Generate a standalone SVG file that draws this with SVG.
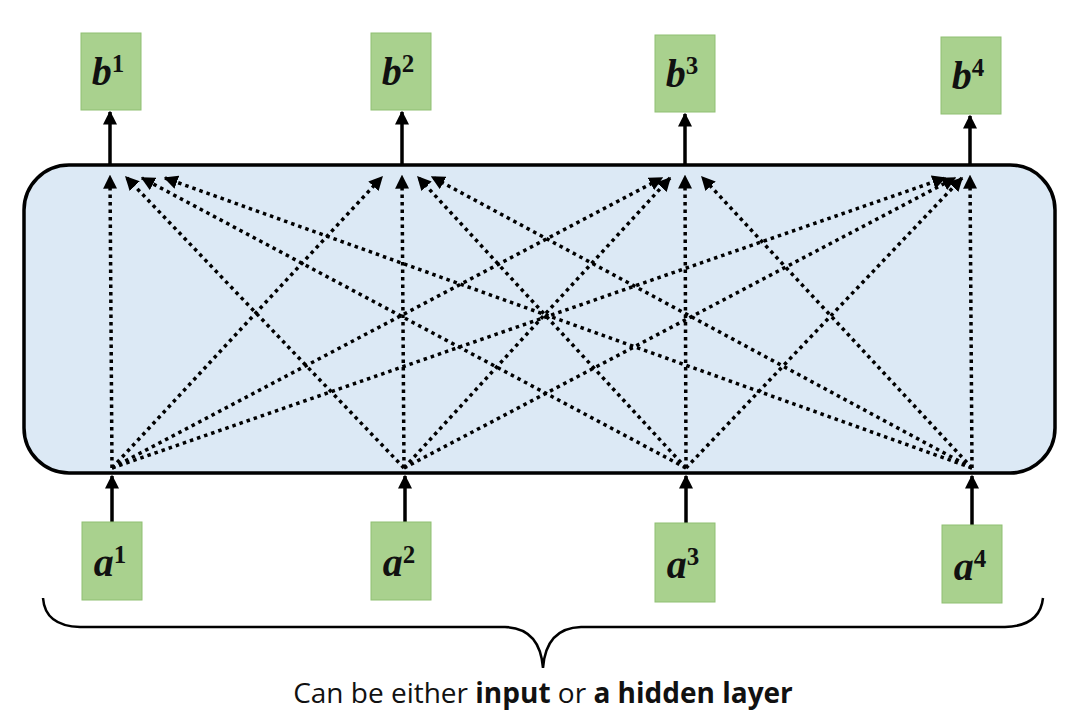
<svg xmlns="http://www.w3.org/2000/svg" width="1071" height="726" viewBox="0 0 1071 726">
<defs>
<style>
.box{fill:#a9d18e;stroke:#8fbf72;stroke-width:1}
.lab{font-family:"Liberation Serif",serif;font-weight:bold;font-style:italic;font-size:40px;fill:#111;text-anchor:middle}
.sup{font-style:normal;font-size:25px}
.solid{stroke:#000;stroke-width:3.5;fill:none}
.dot{stroke:#000;stroke-width:3.5;stroke-dasharray:3.5 4;fill:none}
</style>
<marker id="ah" viewBox="0 0 10 10" refX="9" refY="5" markerWidth="4" markerHeight="4" orient="auto"><path d="M0,0L10,5L0,10z" fill="#000"/></marker>
<marker id="ad" viewBox="0 0 10 10" refX="9" refY="5" markerWidth="4" markerHeight="4" orient="auto"><path d="M0,0L10,5L0,10z" fill="#000"/></marker>
</defs>
<rect x="24" y="165" width="1031" height="308" rx="45" fill="#dce9f5" stroke="#000" stroke-width="3.5"/>
<g id="connectors">
<g class="solid" marker-end="url(#ah)">
<path d="M110,165V112"/><path d="M402,165V112"/><path d="M685,165V114"/><path d="M970,165V116"/>
<path d="M112,522V476"/><path d="M405,522V476"/><path d="M686,524V476"/><path d="M972,527V476"/>
</g>
<g class="dot" marker-end="url(#ad)">
<path d="M112,468L110,176"/><path d="M112,468L382,177"/><path d="M112,468L662,178"/><path d="M112,468L945,178"/>
<path d="M404,468L126,177"/><path d="M404,468L402,176"/><path d="M404,468L670,178"/><path d="M404,468L955,178"/>
<path d="M686,468L142,178"/><path d="M686,468L418,177"/><path d="M686,468L685,176"/><path d="M686,468L962,178"/>
<path d="M972,468L165,178"/><path d="M972,468L432,177"/><path d="M972,468L702,177"/><path d="M972,468L970,176"/>
</g>
</g>
<g id="b1"><rect class="box" x="81" y="33" width="60" height="77"/><text class="lab" x="108" y="85">b<tspan class="sup" dy="-13">1</tspan></text></g>
<g id="b2"><rect class="box" x="371" y="33" width="60" height="77"/><text class="lab" x="398" y="85">b<tspan class="sup" dy="-13">2</tspan></text></g>
<g id="b3"><rect class="box" x="655" y="35" width="60" height="77"/><text class="lab" x="682" y="87">b<tspan class="sup" dy="-13">3</tspan></text></g>
<g id="b4"><rect class="box" x="941" y="37" width="60" height="77"/><text class="lab" x="968" y="89">b<tspan class="sup" dy="-13">4</tspan></text></g>
<g id="a1"><rect class="box" x="82" y="522" width="60" height="78"/><text class="lab" x="110" y="576">a<tspan class="sup" dy="-13">1</tspan></text></g>
<g id="a2"><rect class="box" x="371" y="522" width="60" height="78"/><text class="lab" x="399" y="576">a<tspan class="sup" dy="-13">2</tspan></text></g>
<g id="a3"><rect class="box" x="655" y="523" width="60" height="79"/><text class="lab" x="683" y="578">a<tspan class="sup" dy="-13">3</tspan></text></g>
<g id="a4"><rect class="box" x="942" y="525" width="60" height="78"/><text class="lab" x="970" y="580">a<tspan class="sup" dy="-13">4</tspan></text></g>
<path d="M43,598Q45,626 80,627L505,627Q540,628 543,668Q546,628 581,627L1005,627Q1040,626 1043,598" fill="none" stroke="#000" stroke-width="2.5"/>
<text x="543" y="703" font-family="Open Sans,sans-serif" font-size="28" text-anchor="middle" fill="#111">Can be either <tspan font-weight="bold">input</tspan> or <tspan font-weight="bold">a hidden layer</tspan></text>
</svg>
